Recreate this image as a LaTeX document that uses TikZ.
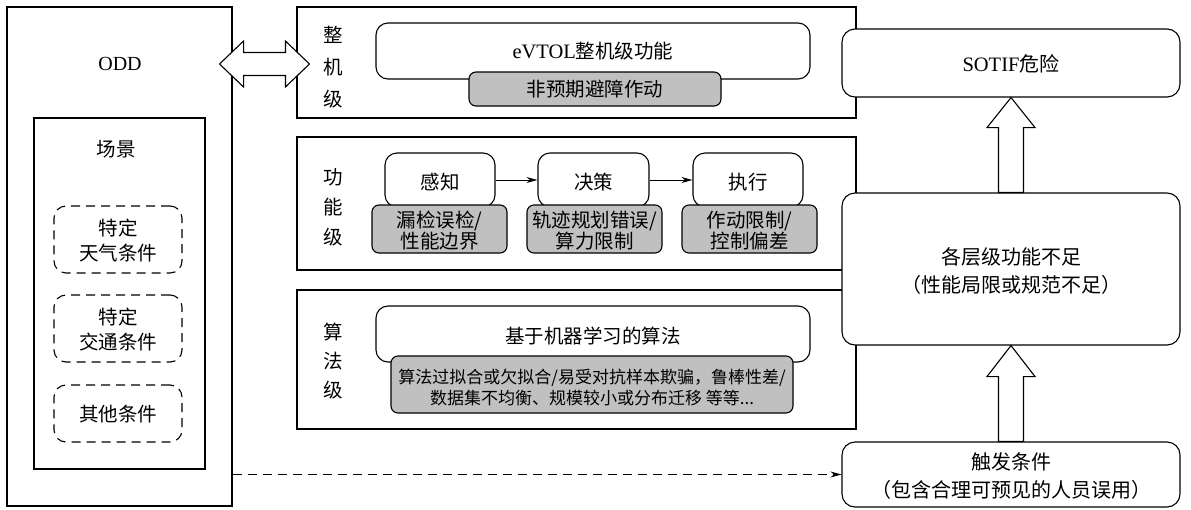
\documentclass[tikz,border=0pt]{standalone}
\usepackage{fontspec}
\setmainfont{Noto Sans CJK SC}
\newfontfamily\tms{Liberation Serif}
\usetikzlibrary{arrows.meta,calc}
\definecolor{fillgray}{RGB}{192,192,192}
\begin{document}
\begin{tikzpicture}[x=1pt,y=-1pt,line width=1.1pt,
  box/.style={draw,fill=white,inner sep=0pt},
  rbox/.style={box,rounded corners=12pt},
  gbox/.style={draw,fill=fillgray,inner sep=0pt,rounded corners=7pt},
  dbox/.style={draw,inner sep=0pt,rounded corners=12pt,dash pattern=on 9pt off 6pt},
  txt/.style={inner sep=0pt,align=center,font=\fontsize{19.5}{25}\selectfont},
  rtxt/.style={inner sep=0pt,align=center,font=\fontsize{20}{28}\selectfont},
  smallarrow/.style={-{Stealth[length=11pt,width=6pt]},line width=1pt},
  hollow/.style={draw,fill=white,line width=1.1pt,line join=miter}]
\useasboundingbox (0,0) rectangle (1191,509);

% ODD side
\node[box,minimum width=225,minimum height=499] (odd) at (119.5,256.5) {};
\node[txt,font=\tms\fontsize{20}{25}\selectfont] (oddtxt) at (120,64) {ODD};
\node[box,minimum width=171,minimum height=351] (scene) at (119.5,293.5) {};
\node[txt] (scenetxt) at (116,149) {场景};
\node[dbox,minimum width=128,minimum height=67] (d1) at (118,239.5) {};
\node[txt] at (118,241) {特定\\天气条件};
\node[dbox,minimum width=128,minimum height=67] (d2) at (118,328.5) {};
\node[txt] at (118,330) {特定\\交通条件};
\node[dbox,minimum width=128,minimum height=57] (d3) at (118,413.5) {};
\node[txt] at (118,414) {其他条件};

% level boxes
\node[box,minimum width=559,minimum height=111] (l1) at (576.5,62.5) {};
\node[box,minimum width=559,minimum height=133] (l2) at (576.5,203.5) {};
\node[box,minimum width=559,minimum height=139] (l3) at (576.5,359.5) {};
\node[txt,font=\fontsize{19.5}{32}\selectfont] (l1lab) at (333,67) {整\\机\\级};
\node[txt,font=\fontsize{19.5}{30}\selectfont] (l2lab) at (333,207) {功\\能\\级};
\node[txt,font=\fontsize{19.5}{29}\selectfont] (l3lab) at (333,361) {算\\法\\级};

% vehicle level
\node[rbox,minimum width=434,minimum height=56] (ev) at (593,51) {};
\node[txt] (evtxt) at (593,51) {{\tms\fontsize{20.5}{25}\selectfont eVTOL}整机级功能};
\node[gbox,minimum width=252,minimum height=34] (evg) at (595,89) {};
\node[txt] (evgtxt) at (595,89) {非预期避障作动};

% function level
\node[rbox,minimum width=110,minimum height=54] (per) at (440,180) {};
\node[txt] at (440,182) {感知};
\node[gbox,minimum width=135,minimum height=48] (perg) at (439.5,229) {};
\node[txt,font=\fontsize{19.5}{21}\selectfont] at (439.5,231) {漏检误检/\\性能边界};
\node[rbox,minimum width=111,minimum height=54] (dec) at (593.5,180) {};
\node[txt] at (593.5,182) {决策};
\node[gbox,minimum width=135,minimum height=48] (decg) at (594.5,229) {};
\node[txt,font=\fontsize{19.5}{21}\selectfont] at (594.5,231) {轨迹规划错误/\\算力限制};
\node[rbox,minimum width=110,minimum height=54] (act) at (748,180) {};
\node[txt] at (748,182) {执行};
\node[gbox,minimum width=135,minimum height=48] (actg) at (749.5,229) {};
\node[txt,font=\fontsize{19.5}{21}\selectfont] at (749.5,231) {作动限制/\\控制偏差};
\draw[smallarrow] (per.east) -- (dec.west);
\draw[smallarrow] (dec.east) -- (act.west);

% algorithm level
\node[rbox,minimum width=434,minimum height=56] (alg) at (593,334) {};
\node[txt] at (593,336) {基于机器学习的算法};
\node[gbox,minimum width=402,minimum height=57] (algg) at (592,384.5) {};
\node[txt,font=\fontsize{17}{21}\selectfont] at (592,387) {算法过拟合或欠拟合/易受对抗样本欺骗，鲁棒性差/\\数据集不均衡、规模较小或分布迁移 等等...};

% right column
\node[box,rounded corners=13pt,minimum width=338,minimum height=68] (sotif) at (1011,63) {};
\node[rtxt] at (1011,64) {{\tms\fontsize{20.5}{25}\selectfont SOTIF}危险};
\node[box,rounded corners=13pt,minimum width=338,minimum height=152] (mid) at (1011,269) {};
\node[rtxt] at (1011,271) {各层级功能不足\\（性能局限或规范不足）};
\node[box,rounded corners=13pt,minimum width=338,minimum height=65] (trig) at (1011,474.5) {};
\node[rtxt] at (1011,476) {触发条件\\（包含合理可预见的人员误用）};

% hollow arrows
\draw[hollow] (sotif.south) -- ($(sotif.south)+(24,30)$) -- ($(sotif.south)+(12.5,30)$)
  -- ($(mid.north)+(12.5,0)$) -- ($(mid.north)+(-12.5,0)$) -- ($(sotif.south)+(-12.5,30)$)
  -- ($(sotif.south)+(-24,30)$) -- cycle;
\draw[hollow] (mid.south) -- ($(mid.south)+(24,31)$) -- ($(mid.south)+(12.5,31)$)
  -- ($(trig.north)+(12.5,0)$) -- ($(trig.north)+(-12.5,0)$) -- ($(mid.south)+(-12.5,31)$)
  -- ($(mid.south)+(-24,31)$) -- cycle;

% double arrow between ODD and vehicle level
\coordinate (dal) at ($(oddtxt -| odd.east)+(-13,0)$);
\coordinate (dar) at ($(oddtxt -| l1.west)+(13,0)$);
\draw[hollow] (dal) -- ++(24,-23) -- ++(0,11.5) -- ($(dar)+(-24,-11.5)$) -- ++(0,-11.5)
  -- (dar) -- ++(-24,23) -- ++(0,-11.5) -- ($(dal)+(24,11.5)$) -- ++(0,11.5) -- cycle;

% dashed connector
\draw[dash pattern=on 9pt off 6pt,-{Stealth[length=11pt,width=6pt]},line width=1pt]
  (trig.west -| odd.east) -- (trig.west);
\end{tikzpicture}
\end{document}
